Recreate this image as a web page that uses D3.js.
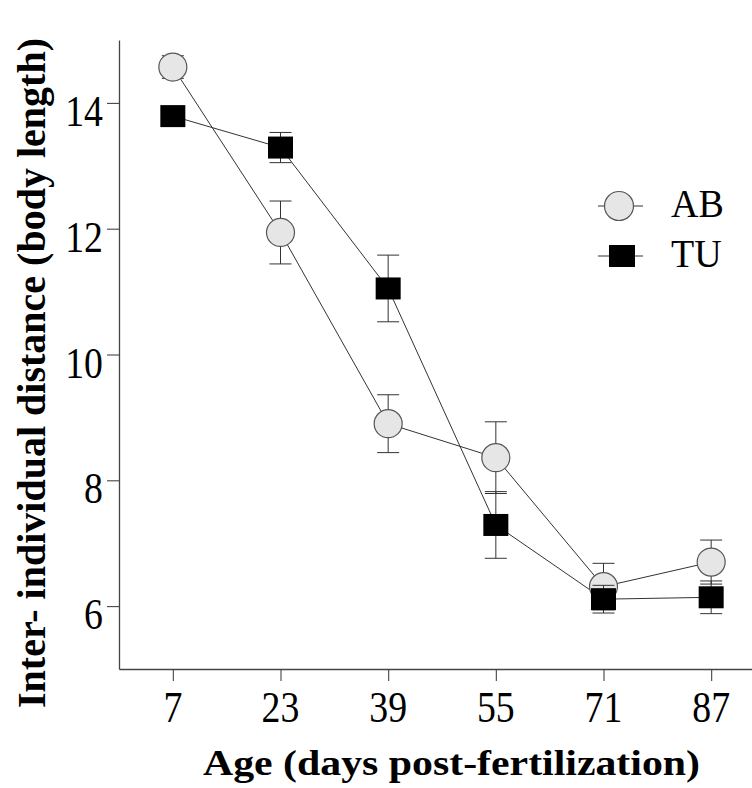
<!DOCTYPE html>
<html>
<head>
<meta charset="utf-8">
<script src="https://cdn.jsdelivr.net/npm/d3@7"></script>
<style>
  body { margin: 0; background: #fff; }
  svg { display: block; }
  text { font-family: "Liberation Serif", "Times New Roman", serif; fill: #000; }
</style>
</head>
<body>
<svg id="chart" width="752" height="788"></svg>
<script>
// ages (days post-fertilization)
var ages = [7, 23, 39, 55, 71, 87];
// mean inter-individual distance, AB strain + error
var abMean = [14.57, 11.94, 8.90, 8.36, 6.31, 6.70];
var abErr  = [0.18, 0.50, 0.46, 0.57, 0.37, 0.35];
// TU strain
var tuMean = [13.79, 13.29, 11.05, 7.29, 6.11, 6.14];
var tuErr  = [0.12, 0.24, 0.53, 0.53, 0.22, 0.26];

var yTicks = [6, 8, 10, 12, 14];
var seriesNames = ["AB", "TU"];

var svg = d3.select("#chart");

// x is a point scale, half a step of padding each side (right end runs off the picture)
var x = d3.scalePoint()
    .domain(ages)
    .range([119, 765])
    .padding(0.5);

var y = d3.scaleLinear()
    .domain([5, 15])
    .range([669, 40]);

var axisColor = "#444";

// y axis
var yAxis = svg.append("g")
    .attr("transform", "translate(119,0)")
    .call(d3.axisLeft(y).tickValues(yTicks).tickSize(12).tickSizeOuter(0).tickFormat(""));
yAxis.select(".domain").attr("stroke", axisColor).attr("stroke-width", 1.3);
yAxis.selectAll(".tick line").attr("stroke", axisColor).attr("stroke-width", 1.1);

// tick labels are tall and narrow in the original, so squeeze them
svg.append("g").selectAll("text")
    .data(yTicks)
    .join("text")
    .attr("transform", d => `translate(103,${y(d) + 23}) scale(0.84,1)`)
    .attr("text-anchor", "end")
    .style("font-size", "45px")
    .text(d => d);

// x axis
var xAxis = svg.append("g")
    .attr("transform", "translate(0,669)")
    .call(d3.axisBottom(x).tickSize(12).tickSizeOuter(0).tickFormat(""));
xAxis.select(".domain").attr("stroke", axisColor).attr("stroke-width", 1.3);
xAxis.selectAll(".tick line").attr("stroke", axisColor).attr("stroke-width", 1.1);

svg.append("g").selectAll("text")
    .data(ages)
    .join("text")
    .attr("transform", d => `translate(${x(d)},722) scale(0.84,1)`)
    .attr("text-anchor", "middle")
    .style("font-size", "45px")
    .text(d => d);

// axis titles
svg.append("text")
    .attr("x", 203)
    .attr("y", 775)
    .attr("textLength", 497)
    .attr("lengthAdjust", "spacingAndGlyphs")
    .style("font-size", "35px")
    .style("font-weight", "bold")
    .text("Age (days post-fertilization)");

svg.append("text")
    .attr("transform", "translate(45,708) rotate(-90)")
    .attr("textLength", 670)
    .attr("lengthAdjust", "spacingAndGlyphs")
    .style("font-size", "40px")
    .style("font-weight", "bold")
    .text("Inter- individual distance (body length)");

// build rows
var ab = ages.map((a, i) => ({age: a, mean: abMean[i], err: abErr[i]}));
var tu = ages.map((a, i) => ({age: a, mean: tuMean[i], err: tuErr[i]}));

var line = d3.line().x(d => x(d.age)).y(d => y(d.mean));

var lineColor = "#333";

[ab, tu].forEach(function(data){
    svg.append("path")
        .datum(data)
        .attr("d", line)
        .attr("fill", "none")
        .attr("stroke", lineColor)
        .attr("stroke-width", 1);
});

function errorBars(data){
    var g = svg.append("g").attr("stroke", lineColor).attr("stroke-width", 1);
    g.selectAll("line.v").data(data).join("line")
        .attr("class", "v")
        .attr("x1", d => x(d.age)).attr("x2", d => x(d.age))
        .attr("y1", d => y(d.mean - d.err)).attr("y2", d => y(d.mean + d.err));
    g.selectAll("line.top").data(data).join("line")
        .attr("class", "top")
        .attr("x1", d => x(d.age) - 11).attr("x2", d => x(d.age) + 11)
        .attr("y1", d => y(d.mean + d.err)).attr("y2", d => y(d.mean + d.err));
    g.selectAll("line.bot").data(data).join("line")
        .attr("class", "bot")
        .attr("x1", d => x(d.age) - 11).attr("x2", d => x(d.age) + 11)
        .attr("y1", d => y(d.mean - d.err)).attr("y2", d => y(d.mean - d.err));
}

errorBars(ab);
svg.append("g").selectAll("circle")
    .data(ab)
    .join("circle")
    .attr("cx", d => x(d.age))
    .attr("cy", d => y(d.mean))
    .attr("r", 14)
    .attr("fill", "#e6e6e6")
    .attr("stroke", "#555")
    .attr("stroke-width", 1.2);

errorBars(tu);
svg.append("g").selectAll("rect")
    .data(tu)
    .join("rect")
    .attr("x", d => x(d.age) - 12.5)
    .attr("y", d => y(d.mean) - 11)
    .attr("width", 25)
    .attr("height", 22)
    .attr("fill", "#000");

// legend
var legend = svg.append("g");
var legendY = [206, 256];
legend.selectAll("line")
    .data(seriesNames)
    .join("line")
    .attr("x1", 598).attr("x2", 643)
    .attr("y1", (d, i) => legendY[i]).attr("y2", (d, i) => legendY[i])
    .attr("stroke", lineColor).attr("stroke-width", 1);
legend.append("circle")
    .attr("cx", 619).attr("cy", legendY[0]).attr("r", 14.5)
    .attr("fill", "#e6e6e6").attr("stroke", "#555").attr("stroke-width", 1.2);
legend.append("rect")
    .attr("x", 609).attr("y", legendY[1] - 11)
    .attr("width", 26).attr("height", 22)
    .attr("fill", "#000");
legend.selectAll("text")
    .data(seriesNames)
    .join("text")
    .attr("transform", (d, i) => `translate(671,${legendY[i] + 11}) scale(0.95,1)`)
    .style("font-size", "40px")
    .text(d => d);
</script>
</body>
</html>
